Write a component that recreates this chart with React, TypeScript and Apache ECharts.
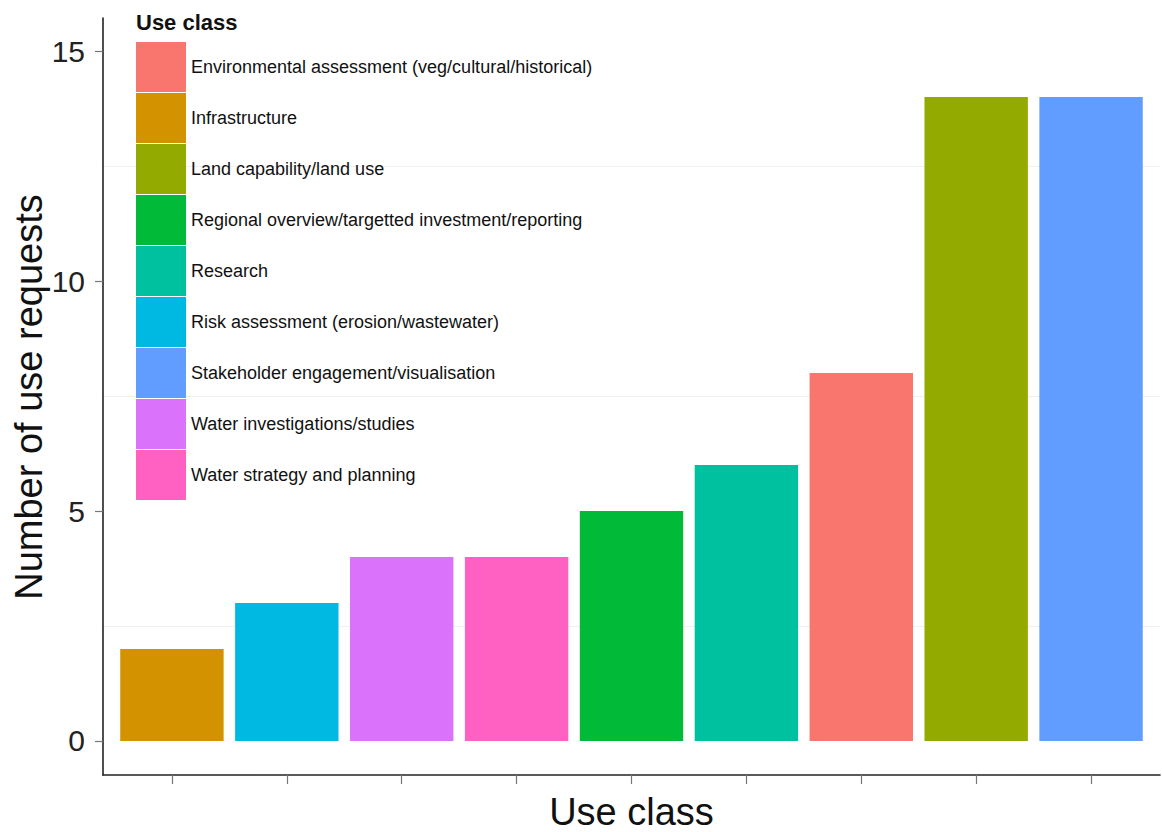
import React, { useEffect, useRef } from "react";
import * as echarts from "echarts";

// Bars, in plotted order (left to right)
const plotClasses = [
  "Infrastructure",
  "Risk assessment (erosion/wastewater)",
  "Water investigations/studies",
  "Water strategy and planning",
  "Regional overview/targetted investment/reporting",
  "Research",
  "Environmental assessment (veg/cultural/historical)",
  "Land capability/land use",
  "Stakeholder engagement/visualisation",
];
const requestCounts = [2, 3, 4, 4, 5, 6, 8, 14, 14];

// Legend order (alphabetical) and colours
const legendClasses = [
  "Environmental assessment (veg/cultural/historical)",
  "Infrastructure",
  "Land capability/land use",
  "Regional overview/targetted investment/reporting",
  "Research",
  "Risk assessment (erosion/wastewater)",
  "Stakeholder engagement/visualisation",
  "Water investigations/studies",
  "Water strategy and planning",
];
const classColors = [
  "#F8766D",
  "#D39200",
  "#93AA00",
  "#00BA38",
  "#00C19F",
  "#00B9E3",
  "#619CFF",
  "#DB72FB",
  "#FF61C3",
];

const yTickValues = [0, 5, 10, 15];
const yMinorGridValues = [2.5, 7.5, 12.5];
const xTickPositions = [0, 1, 2, 3, 4, 5, 6, 7, 8];
const yAxisTitle = "Number of use requests";
const xAxisTitle = "Use class";
const legendTitle = "Use class";

const FONT = "'Liberation Sans', Arial, Helvetica, sans-serif";

export default function App() {
  const ref = useRef<HTMLDivElement>(null);

  useEffect(() => {
    if (!ref.current) return;
    const chart = echarts.init(ref.current, undefined, { renderer: "svg" });

    const series = legendClasses.map((name, i) => {
      const pos = plotClasses.indexOf(name);
      return {
        name,
        type: "bar",
        xAxisIndex: 0,
        yAxisIndex: 0,
        barWidth: "90%",
        barGap: "-100%",
        itemStyle: { color: classColors[i] },
        data: [[pos, requestCounts[pos]]],
      };
    });

    const option: any = {
      animation: false,
      backgroundColor: "#ffffff",
      textStyle: { fontFamily: FONT },
      title: {
        text: legendTitle,
        left: 136,
        top: 11,
        padding: 0,
        textStyle: {
          fontFamily: FONT,
          fontSize: 22,
          fontWeight: "bold",
          color: "#111",
        },
      },
      graphic: [
        {
          type: "text",
          x: 29,
          y: 397,
          rotation: Math.PI / 2,
          silent: true,
          style: {
            text: yAxisTitle,
            fontFamily: FONT,
            fontSize: 38,
            fill: "#111",
            align: "center",
            verticalAlign: "middle",
          },
        },
      ],
      legend: {
        data: legendClasses,
        orient: "vertical",
        left: 136,
        top: 42,
        padding: 0,
        itemWidth: 50,
        itemHeight: 50,
        itemGap: 1,
        icon: "rect",
        selectedMode: false,
        textStyle: { fontFamily: FONT, fontSize: 18, color: "#111" },
      },
      grid: {
        left: 103,
        right: 2,
        top: 18,
        bottom: 57,
        containLabel: false,
        outerBoundsMode: "none",
      },
      xAxis: {
        type: "value",
        min: -0.6,
        max: 8.6,
        name: xAxisTitle,
        nameLocation: "middle",
        nameGap: 19,
        nameMoveOverlap: false,
        nameTextStyle: {
          fontFamily: FONT,
          fontSize: 38,
          lineHeight: 36,
          color: "#111",
        },
        axisLine: {
          show: true,
          onZero: false,
          lineStyle: { color: "#222", width: 1.6 },
        },
        axisTick: {
          show: true,
          customValues: xTickPositions,
          length: 9,
          lineStyle: { color: "#777", width: 1.2 },
        },
        axisLabel: { show: false },
        splitLine: { show: false },
      },
      yAxis: [
        {
          type: "value",
          min: -0.74,
          max: 15.72,
          axisLine: {
            show: true,
            onZero: false,
            lineStyle: { color: "#222", width: 1.6 },
          },
          axisTick: {
            show: true,
            customValues: yTickValues,
            length: 8,
            lineStyle: { color: "#777", width: 1.2 },
          },
          axisLabel: {
            customValues: yTickValues,
            fontFamily: FONT,
            fontSize: 30,
            color: "#222",
            margin: 18,
          },
          splitLine: { show: false },
        },
        {
          type: "value",
          min: -0.74,
          max: 15.72,
          position: "left",
          axisLine: { show: false, onZero: false },
          axisTick: { show: false, customValues: yMinorGridValues },
          axisLabel: { show: false, customValues: yMinorGridValues },
          splitLine: { show: true, lineStyle: { color: "#f1f1f1", width: 1 } },
        },
      ],
      series,
    };

    chart.setOption(option);
    return () => chart.dispose();
  }, []);

  return (
    <div
      ref={ref}
      style={{ position: "fixed", left: 0, top: 0, width: 1162, height: 832 }}
    />
  );
}
